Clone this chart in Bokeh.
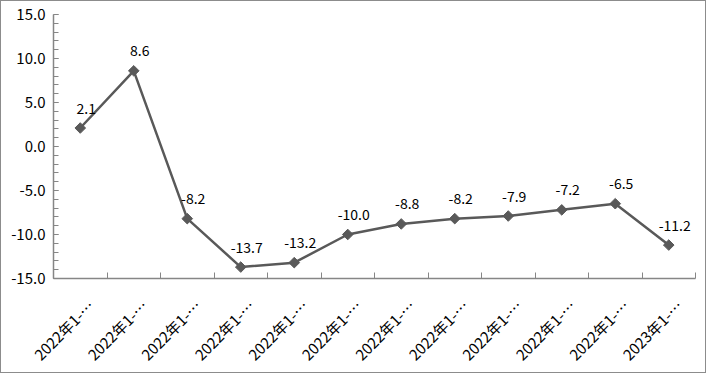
from bokeh.plotting import figure
from bokeh.models import Range1d, FixedTicker, ColumnDataSource, LabelSet, CustomJSTickFormatter
from bokeh.embed import file_html
from bokeh.resources import INLINE
from bokeh.core.properties import value
import math

categories = ["2022年1-2月", "2022年1-3月", "2022年1-4月", "2022年1-5月", "2022年1-6月",
              "2022年1-7月", "2022年1-8月", "2022年1-9月", "2022年1-10月", "2022年1-11月",
              "2022年1-12月", "2023年1-2月"]
values = [2.1, 8.6, -8.2, -13.7, -13.2, -10.0, -8.8, -8.2, -7.9, -7.2, -6.5, -11.2]
y_ticks = [15, 10, 5, 0, -5, -10, -15]

FONT = "Noto Sans CJK SC"
n = len(categories)
xs = [i + 0.5 for i in range(n)]
shown = [c[:7] + "…" for c in categories]
ymin, ymax = y_ticks[-1], y_ticks[0]
label_shift = 0.2  # rotated labels sit slightly right of the category centre

p = figure(width=706, height=373, output_backend="svg", toolbar_location=None,
           x_range=Range1d(0, n), y_range=Range1d(ymin, ymax),
           min_border_left=52, min_border_right=12, min_border_top=13, min_border_bottom=85)
p.outline_line_color = None
p.grid.grid_line_color = None
p.styles = {"border": "1px solid #8c8c8c", "box-sizing": "border-box"}

src = ColumnDataSource(dict(x=xs, y=values, lab=["%.1f" % v for v in values]))
p.line("x", "y", source=src, line_color="#595959", line_width=2.5)
p.scatter("x", "y", source=src, marker="square", angle=math.pi / 4, size=7.5, color="#595959")
p.add_layout(LabelSet(x="x", y="y", text="lab", source=src, text_align="center",
                      text_baseline="middle", x_offset=6, y_offset=20,
                      text_font=value(FONT), text_font_size="14px", text_color="#000000"))

# x axis
label_pos = [x + label_shift for x in xs]
xa = p.xaxis[0]
xa.ticker = FixedTicker(ticks=label_pos, minor_ticks=list(range(n + 1)))
xa.major_label_overrides = {x: s for x, s in zip(label_pos, shown)}
xa.major_label_orientation = math.pi / 4
xa.major_label_text_font = FONT
xa.major_label_text_font_size = "15px"
xa.major_label_text_color = "#000000"
xa.major_label_standoff = 24
xa.major_tick_in = 0
xa.major_tick_out = 0
xa.minor_tick_in = 6
xa.minor_tick_out = 0
xa.minor_tick_line_color = "#868686"
xa.axis_line_color = "#868686"
xa.axis_line_width = 1.5

ya = p.yaxis[0]
ya.ticker = FixedTicker(ticks=y_ticks, minor_ticks=list(range(ymin, ymax + 1)))
ya.formatter = CustomJSTickFormatter(code="return tick.toFixed(1);")
ya.major_tick_in = 5
ya.major_tick_out = 0
ya.minor_tick_in = 5
ya.minor_tick_out = 0
ya.major_tick_line_color = "#868686"
ya.minor_tick_line_color = "#868686"
ya.axis_line_color = "#868686"
ya.axis_line_width = 1.5
ya.major_label_text_font = FONT
ya.major_label_text_font_size = "15px"
ya.major_label_text_color = "#000000"
ya.major_label_standoff = 8

open("out.html", "w").write(file_html(p, INLINE))
